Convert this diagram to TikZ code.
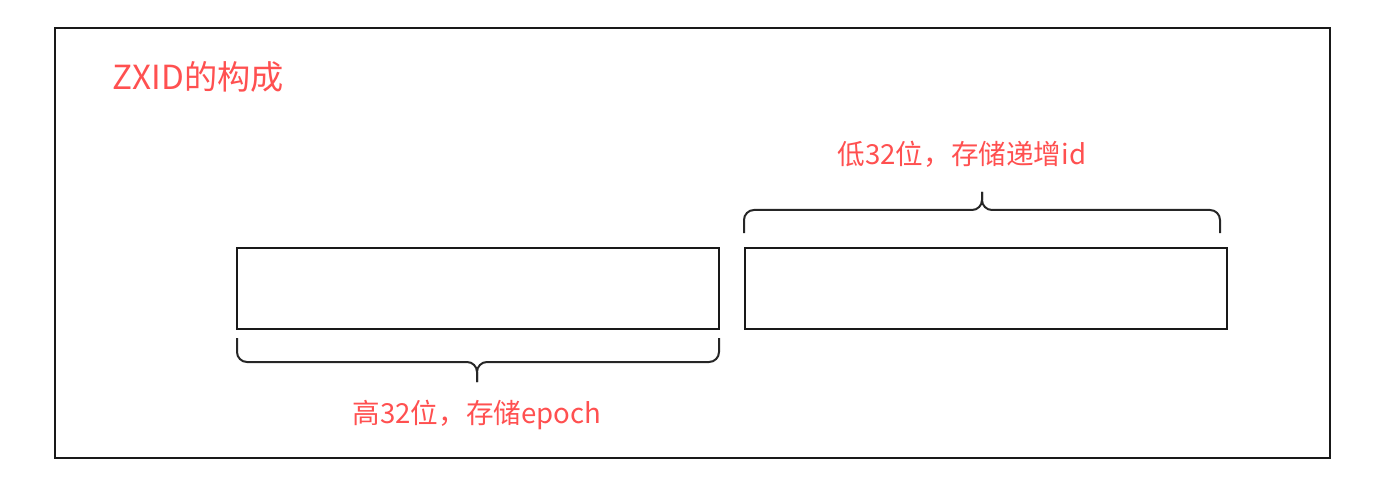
\documentclass[tikz,border=0pt]{standalone}
\usepackage{fontspec}
\setmainfont{Noto Sans CJK SC}
\usetikzlibrary{positioning}
\definecolor{labelred}{RGB}{255,80,80}

\begin{document}
\begin{tikzpicture}[x=0.5pt,y=-0.5pt,
bitbox/.style={rectangle, draw=black!90, line width=1pt, minimum width=241pt, minimum height=40.5pt, inner sep=0pt},
bracepath/.style={draw=black!85, line width=1pt, rounded corners=5pt},
redlabel/.style={text=labelred, font=\fontsize{13.8}{16}\selectfont, inner sep=0pt},
]
\useasboundingbox (0,0) rectangle (1388,492);

% outer frame
\draw[line width=1pt, draw=black!90] (55,28) rectangle (1330,458);

\node[redlabel, anchor=west, font=\fontsize{16.6}{19}\selectfont](title) at (112,77){ZXID的构成};

% \node[type](name)[right=of name]{}
\node[bitbox](highbits) at (478,288.5){};
\node[bitbox](lowbits)[right=12pt of highbits]{};

% braces
\draw[bracepath] (237,338) -- (237,362) -- (477,362) -- (477,382);
\draw[bracepath] (719,338) -- (719,362) -- (477,362) -- (477,382);
\draw[bracepath] (744,233) -- (744,210) -- (982,210) -- (982,192);
\draw[bracepath] (1220,233) -- (1220,210) -- (982,210) -- (982,192);

\node[redlabel](highlabel) at (477,415){高32位，存储epoch};
\node[redlabel](lowlabel) at (962,154){低32位，存储递增id};

\end{tikzpicture}
\end{document}
